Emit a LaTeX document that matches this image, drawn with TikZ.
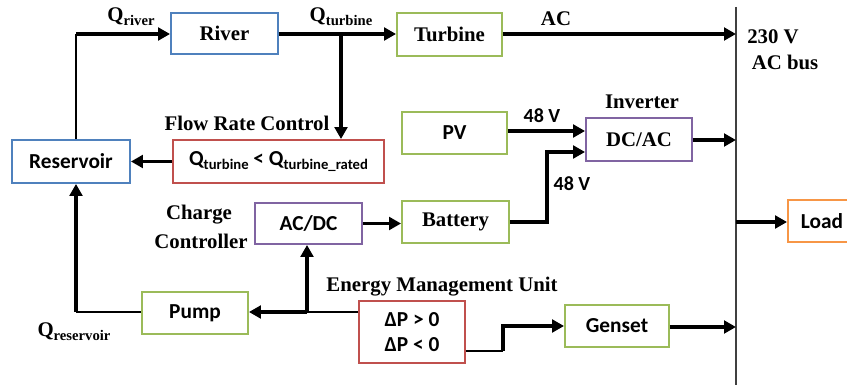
\documentclass[tikz,border=0pt]{standalone}
\usepackage{fontspec}
\setmainfont{Liberation Serif}
\setsansfont{Carlito}
\usetikzlibrary{arrows.meta}
\newcommand{\lsub}[1]{\raisebox{-0.4ex}{\fontsize{11}{12}\selectfont #1}}
\definecolor{cblue}{HTML}{4F81BD}
\definecolor{cgreen}{HTML}{9BBB59}
\definecolor{cred}{HTML}{C0504D}
\definecolor{cpurple}{HTML}{8064A2}
\definecolor{corange}{HTML}{F79646}
\definecolor{cbus}{HTML}{404040}
\tikzset{
  blk/.style={draw, line width=1.4pt, inner sep=0pt, fill=white},
  serifb/.style={font=\fontsize{15.6}{17}\selectfont\rmfamily\bfseries},
  sansb/.style={font=\fontsize{16}{18}\selectfont\sffamily\bfseries},
  lbl/.style={serifb, inner sep=0pt},
  lbls/.style={font=\fontsize{15}{17}\selectfont\sffamily\bfseries, inner sep=0pt},
  thk/.style={line width=2.4pt, -{Triangle[length=9pt,width=9.5pt]}},
  thkline/.style={line width=2.4pt},
  thn/.style={line width=1.1pt},
}
\begin{document}
\begin{tikzpicture}[x=0.75pt,y=-0.75pt]
\useasboundingbox (0,0) rectangle (847,385);
% bus
\draw[cbus, line width=1.1pt] (736,7) coordinate (bustop) -- (736,385) coordinate (busbot);
% blocks
\node[blk, draw=cblue, serifb, minimum width=80.25pt, minimum height=30.75pt] (river) at (224.5,33.5) {River};
\node[blk, draw=cgreen, serifb, minimum width=78.75pt, minimum height=32.25pt] (turbine) at (449.5,34.5) {Turbine};
\node[blk, draw=cblue, sansb, minimum width=88.5pt, minimum height=32.25pt] (reservoir) at (71,161.5) {Reservoir};
\node[blk, draw=cred, sansb, minimum width=158.25pt, minimum height=32.25pt] (frc) at (278.5,161.5) {Q\lsub{turbine} < Q\lsub{turbine\_rated}};
\node[blk, draw=cgreen, sansb, minimum width=78.75pt, minimum height=31.5pt] (pv) at (454.5,133) {PV};
\node[blk, draw=cpurple, serifb, minimum width=79.5pt, minimum height=32.25pt] (dcac) at (639,139.5) {DC/AC};
\node[blk, draw=cpurple, sansb, minimum width=80.25pt, minimum height=30.75pt] (acdc) at (308.5,223.5) {AC/DC};
\node[blk, draw=cgreen, serifb, minimum width=80.25pt, minimum height=31.5pt] (battery) at (455.5,222) {Battery};
\node[blk, draw=cgreen, sansb, minimum width=79.5pt, minimum height=31.5pt] (pump) at (195,313) {Pump};
\node[blk, draw=cred, sansb, align=center, minimum width=79.5pt, minimum height=46.5pt] (emu) at (412,332) {ΔP > 0\\[1pt]ΔP < 0};
\node[blk, draw=cgreen, sansb, minimum width=78pt, minimum height=31.5pt] (genset) at (617,326) {Genset};
\node[blk, draw=corange, sansb, minimum width=51pt, minimum height=31.5pt] (load) at (822,221) {Load};
% labels
\node[lbl] (lqriver) at (131,17) {Q\lsub{river}};
\node[lbl] (lqturb) at (341,17) {Q\lsub{turbine}};
\node[lbl] (lac) at (556,19) {AC};
\node[lbl] (l230) at (773,37) {230 V};
\node[lbl] (lacbus) at (785,62) {AC bus};
\node[lbl] (linv) at (642,102) {Inverter};
\node[lbls] (l48a) at (542,116) {48 V};
\node[lbls] (l48b) at (572,184) {48 V};
\node[lbl] (lfrc) at (247,123) {Flow Rate Control};
\node[lbl] (lcharge) at (199,215) {Charge};
\node[lbl] (lcontr) at (201,241) {Controller};
\node[lbl] (lemu) at (442,287) {Energy Management Unit};
\node[lbl] (lqres) at (74,332) {Q\lsub{reservoir}};
% coordinates
\coordinate (b1) at (736,34);
\coordinate (b2) at (736,140);
\coordinate (b3) at (736,327);
\coordinate (b4) at (736,222);
\coordinate (j1) at (341,34);
\coordinate (r1) at (76,34);
\coordinate (c1) at (547,152);
\coordinate (e1) at (307,312);
\coordinate (p1) at (76,312);
\coordinate (g1) at (503,351);
\coordinate (g2) at (503,326);
% connectors
\draw[thk] (turbine.east |- b1) -- (b1);
\draw[thk] (river.east |- j1) -- (j1 -| turbine.west);
\draw[thk] (j1) -- (j1 |- frc.north);
\draw[thk] (frc.west) -- (reservoir.east);
\draw[thn] (r1 |- reservoir.north) -- (r1);
\draw[thk] (r1) -- (r1 -| river.west);
\draw[thk] (pv.east |- 0,131) -- (dcac.west |- 0,131);
\draw[thk] (battery.east) -| (c1) -- (c1 -| dcac.west);
\draw[thk] (dcac.east |- b2) -- (b2);
\draw[thk] (acdc.east) -- (battery.west |- acdc.east);
\draw[thn] (e1 -| emu.west) -- (e1);
\draw[thk] (e1) -- (e1 -| pump.east);
\draw[thk] (e1) -- (e1 |- acdc.south);
\draw[thn] (pump.west |- p1) -- (p1);
\draw[thk] (p1) -- (p1 |- reservoir.south);
\draw[thn] (g1 -| emu.east) -- (g1);
\draw[thkline] (g1) -- ([yshift=-0.9pt]g2);
\draw[thk] ([xshift=-1.2pt]g2) -- (g2 -| genset.west);
\draw[thk] (genset.east |- b3) -- (b3);
\draw[thk] (b4) -- (b4 -| load.west);
\end{tikzpicture}
\end{document}
